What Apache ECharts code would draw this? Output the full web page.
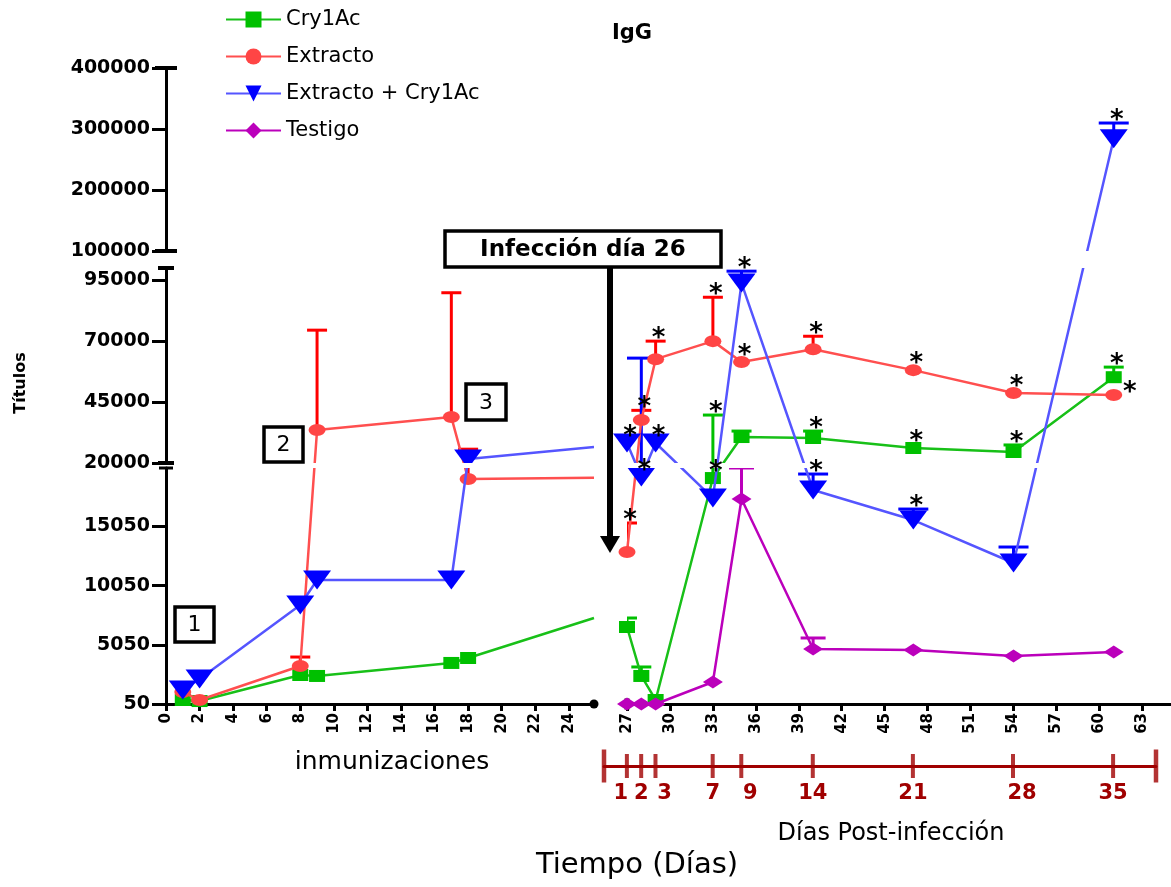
<!DOCTYPE html>
<html><head><meta charset="utf-8">
<script src="https://cdn.jsdelivr.net/npm/echarts@6/dist/echarts.min.js"></script>
<style>html,body{margin:0;padding:0;background:#fff}#c{width:1171px;height:887px}</style>
</head><body><div id="c"></div>
<script>
// ---------------- data ----------------
// immunization phase (left part); 25.5 = where the drawn lines end at the axis break
const daysImmun = [1, 2, 8, 9, 17, 18, 25.5];
const cryImmun = [390, 300, 2500, 2420, 3520, 3940, 7320];
const extImmun = [1060, 390, 3260, 33500, 38850, 19070, 19180];
const extImmunErr = [0, 0, 760, 41000, 51000, 6600, 0];
const extCryImmun = [1230, 2160, 8420, 10530, 10530, 21640, 26560];

// post-infection phase (right part)
const daysInf = [27, 28, 29, 33, 35, 40, 47, 54, 61];
const cryInf = [6560, 2420, 390, 19150, 30650, 30250, 26150, 24500, 55200];
const cryInfErr = [760, 760, 0, 20520, 2450, 2850, 0, 2900, 4140];
const extInf = [12900, 37600, 62600, 70000, 61400, 66700, 58100, 48700, 47900];
const extInfErr = [2450, 4000, 7400, 18000, 0, 5300, 0, 0, 0];
const extCryInf = [28200, 19240, 28200, 17460, 93800, 18140, 15600, 11970, 284000];
const extCryInfErr = [0, 43790, 0, 0, 4900, 1350, 930, 1350, 25800];
const testInf = [50, 50, 50, 1910, 17380, 4700, 4610, 4110, 4450];
const testInfErr = [0, 0, 0, 0, 2620, 930, 0, 0, 0];

// axes
const ySegments = [[50, 20000], [20000, 100000], [100000, 400000]];
const yTicks = [[50, 5050, 10050, 15050], [20000, 45000, 70000, 95000], [100000, 200000, 300000, 400000]];
const xTicksImmun = [0, 2, 4, 6, 8, 10, 12, 14, 16, 18, 20, 22, 24];
const xTicksInf = [27, 30, 33, 36, 39, 42, 45, 48, 51, 54, 57, 60, 63];
const postDays = [1, 2, 3, 7, 9, 14, 21, 28, 35];
const postEnds = [-0.6, 38];

// significance asterisks: [series, day, placement]
const starMarks = [
  ['Extracto', 27, 'cap'], ['Extracto', 28, 'cap'], ['Extracto', 29, 'cap'], ['Extracto', 33, 'cap'],
  ['Extracto', 35, 'pt'], ['Extracto', 40, 'cap'], ['Extracto', 47, 'pt'], ['Extracto', 54, 'pt'],
  ['Extracto', 61, 'side'],
  ['Cry1Ac', 33, 'cap'], ['Cry1Ac', 33, 'pt'], ['Cry1Ac', 40, 'cap'], ['Cry1Ac', 47, 'pt'],
  ['Cry1Ac', 54, 'cap'], ['Cry1Ac', 61, 'cap'],
  ['Extracto + Cry1Ac', 27, 'pt'], ['Extracto + Cry1Ac', 28, 'pt'], ['Extracto + Cry1Ac', 29, 'pt'],
  ['Extracto + Cry1Ac', 35, 'cap'], ['Extracto + Cry1Ac', 40, 'cap'], ['Extracto + Cry1Ac', 47, 'cap'],
  ['Extracto + Cry1Ac', 61, 'cap']
];

// ---------------- layout / style ----------------
const FONT = 'DejaVu Sans';
const PLOT_TOP = 68, PLOT_H = 636;
// visual extent (px from the bottom) of each y-axis segment of the broken axis
const segLayout = [[0, 236], [241, 436], [453, 636]];
function brokenY(v) {
  let bi = ySegments.findIndex(r => v <= r[1]);
  if (bi < 0) bi = ySegments.length - 1;
  const [a, b] = ySegments[bi], [p, q] = segLayout[bi];
  return p + (v - a) / (b - a) * (q - p);
}

const defs = [
  {name: 'Cry1Ac', line: '#18c018', color: '#00c000', err: '#00c000', symbol: 'rect', size: [16, 12], rot: 0, capW: 20,
   immun: cryImmun, immunErr: null, inf: cryInf, infErr: cryInfErr},
  {name: 'Extracto', line: '#ff4f4f', color: '#ff4545', err: '#ff0000', symbol: 'circle', size: [17, 12], rot: 0, capW: 20,
   immun: extImmun, immunErr: extImmunErr, inf: extInf, infErr: extInfErr},
  {name: 'Extracto + Cry1Ac', line: '#5555ff', color: '#0000ff', err: '#0000ff', symbol: 'triangle', size: [28, 19], rot: 180, capW: 30,
   immun: extCryImmun, immunErr: null, inf: extCryInf, infErr: extCryInfErr},
  {name: 'Testigo', line: '#bb00bb', color: '#bb00bb', err: '#bb00bb', symbol: 'diamond', size: [20, 13], rot: 0, capW: 25,
   immun: null, immunErr: null, inf: testInf, infErr: testInfErr}
];

const sides = [
  {left: 166, width: 428, min: 0, max: 25.5, ticks: xTicksImmun, sym: ['none', 'circle'], symSize: [9, 9]},
  {left: 627, width: 544, min: 27, max: 65, ticks: xTicksInf, sym: ['rect', 'none'], symSize: [11, 5]}
];
const bands = [
  {caps: ['none', 'rect'], capSize: [14, 3]},
  {caps: ['rect', 'rect'], capSize: [16, 4]},
  {caps: ['rect', 'rect'], capSize: [22, 4]}
];

const grids = [], xAxes = [], yAxes = [], series = [];
// axis-only grids: one per (side, y segment) to draw the broken axes
sides.forEach((s, si) => bands.forEach((b, bi) => {
  const gi = grids.length;
  const lay = segLayout[bi];
  grids.push({left: s.left, width: s.width, top: PLOT_TOP + PLOT_H - lay[1], height: lay[1] - lay[0]});
  xAxes.push({
    type: 'value', gridIndex: gi, min: s.min, max: s.max, show: bi === 0,
    axisLine: {onZero: false, lineStyle: {color: '#000', width: 3}, symbol: s.sym, symbolSize: s.symSize},
    axisTick: {customValues: s.ticks, length: 7, lineStyle: {color: '#000', width: 3}},
    axisLabel: {customValues: s.ticks, rotate: 90, margin: 9, color: '#000', fontFamily: FONT, fontWeight: 'bold', fontSize: 15},
    splitLine: {show: false}
  });
  yAxes.push({
    type: 'value', gridIndex: gi, min: ySegments[bi][0], max: ySegments[bi][1], show: si === 0, z: 30,
    axisLine: {show: true, onZero: false, lineStyle: {color: '#000', width: 3}, symbol: b.caps, symbolSize: b.capSize},
    axisTick: {customValues: yTicks[bi], length: 14, lineStyle: {color: '#000', width: 3}},
    axisLabel: {customValues: yTicks[bi], margin: 16, color: '#000', fontFamily: FONT, fontWeight: 'bold', fontSize: 19,
                formatter: v => String(v)},
    splitLine: {show: false}
  });
}));

// plotting grids (one per side), y in broken-axis visual units
const plotGrid = [];
sides.forEach((s) => {
  const gi = grids.length;
  plotGrid.push(gi);
  grids.push({left: s.left, width: s.width, top: PLOT_TOP, height: PLOT_H});
  xAxes.push({type: 'value', gridIndex: gi, min: s.min, max: s.max, show: false, splitLine: {show: false}});
  yAxes.push({type: 'value', gridIndex: gi, min: 0, max: PLOT_H, show: false, splitLine: {show: false}});
});

// timeline grid (post-infection days)
const tlGrid = grids.length;
grids.push({left: 604, width: 552, top: 736, height: 30});
const shift = {1: 'l', 3: 'r', 9: 'r', 28: 'r'};
xAxes.push({
  type: 'value', gridIndex: tlGrid, min: postEnds[0], max: postEnds[1],
  axisLine: {onZero: false, lineStyle: {color: '#a00000', width: 3}},
  axisTick: {show: false},
  axisLabel: {customValues: postDays, margin: 17, color: '#a00000', fontFamily: FONT, fontWeight: 'bold', fontSize: 21,
              showMinLabel: true, showMaxLabel: true, hideOverlap: false,
              formatter: v => shift[v] ? '{' + shift[v] + '|' + v + '}' : String(v),
              rich: {l: {padding: [0, 12, 0, 0], color: '#a00000', fontFamily: FONT, fontWeight: 'bold', fontSize: 21},
                     r: {padding: [0, 0, 0, 18], color: '#a00000', fontFamily: FONT, fontWeight: 'bold', fontSize: 21}}},
  splitLine: {show: false}
});
yAxes.push({type: 'value', gridIndex: tlGrid, min: 0, max: 1, show: false, splitLine: {show: false}});

function errRender(color, capW) {
  return function (params, api) {
    const p0 = api.coord([api.value(0), api.value(1)]), p1 = api.coord([api.value(0), api.value(2)]);
    return {type: 'group', children: [
      {type: 'line', shape: {x1: p0[0], y1: p0[1], x2: p1[0], y2: p1[1]}, style: {stroke: color, lineWidth: 3}},
      {type: 'line', shape: {x1: p1[0] - capW / 2, y1: p1[1], x2: p1[0] + capW / 2, y2: p1[1]}, style: {stroke: color, lineWidth: 3}}
    ]};
  };
}

defs.forEach((d, di) => {
  [[daysImmun, d.immun, d.immunErr], [daysInf, d.inf, d.infErr]].forEach(([days, vals, errs], si) => {
    if (!vals) return;
    const g = plotGrid[si];
    const data = days.map((x, i) => {
      const item = {value: [x, brokenY(vals[i])]};
      if (si === 0 && i === days.length - 1) item.symbol = 'none';
      return item;
    });
    series.push({
      type: 'line', name: d.name, xAxisIndex: g, yAxisIndex: g, data: data,
      clip: true, symbol: d.symbol, symbolSize: d.size, symbolRotate: d.rot, showAllSymbol: true,
      lineStyle: {color: d.line, width: 2.5}, itemStyle: {color: d.color}, z: 3 + di * 0.1,
      emphasis: {disabled: true}
    });
    if (errs) {
      const edata = days.map((x, i) => [x, brokenY(vals[i]), brokenY(vals[i] + errs[i]), errs[i]]).filter(r => r[3] > 0);
      series.push({
        type: 'custom', xAxisIndex: g, yAxisIndex: g, clip: true, z: 2,
        data: edata, renderItem: errRender(d.err, d.capW), silent: true
      });
    }
  });
});

// white gaps where the y axis is broken
plotGrid.forEach(g => {
  series.push({
    type: 'line', xAxisIndex: g, yAxisIndex: g, data: [[-1000, -1000]], symbol: 'none', z: 10, silent: true,
    markArea: {silent: true, z: 20, itemStyle: {color: '#ffffff', opacity: 1, borderWidth: 0},
      data: [[{yAxis: segLayout[0][1]}, {yAxis: segLayout[1][0]}], [{yAxis: segLayout[1][1]}, {yAxis: segLayout[2][0]}]]}
  });
});

// asterisks
const starData = starMarks.map(([name, day, place]) => {
  const d = defs.find(x => x.name === name);
  const i = daysInf.indexOf(day);
  const v = d.inf[i], e = d.infErr[i];
  const anchor = place === 'cap' ? v + e : v;
  const code = place === 'cap' ? 0 : place === 'pt' ? 1 : 2;
  return [day, brokenY(anchor), code];
});
series.push({
  type: 'custom', xAxisIndex: plotGrid[1], yAxisIndex: plotGrid[1], clip: false, z: 25, silent: true, data: starData,
  renderItem: function (params, api) {
    const p = api.coord([api.value(0), api.value(1)]);
    const code = api.value(2);
    let x = p[0] + 3, y = p[1] - 2;
    if (code === 1) y = p[1] - 6;
    if (code === 2) { x = p[0] + 16; y = p[1] - 2; }
    return {type: 'text', x: x, y: y, style: {text: '*', font: 'bold 26px "DejaVu Sans"', fill: '#000', align: 'center', verticalAlign: 'middle'}};
  }
});

// timeline ticks
series.push({
  type: 'scatter', xAxisIndex: tlGrid, yAxisIndex: tlGrid, symbol: 'rect', symbolSize: [4, 24], clip: false, silent: true,
  itemStyle: {color: '#a00000'}, data: postDays.map(x => [x, 0])
});
series.push({
  type: 'scatter', xAxisIndex: tlGrid, yAxisIndex: tlGrid, symbol: 'rect', symbolSize: [4.5, 33], clip: false, silent: true,
  itemStyle: {color: '#a00000'}, data: postEnds.map(x => [x, 0])
});

function box(x, y, w, h, label, font) {
  return [
    {type: 'rect', shape: {x: x, y: y, width: w, height: h}, style: {fill: '#fff', stroke: '#000', lineWidth: 3.5}, z: 40},
    {type: 'text', x: x + w / 2, y: y + h / 2 + 1, z: 41,
     style: {text: label, font: font, fill: '#000', align: 'center', verticalAlign: 'middle'}}
  ];
}

const option = {
  animation: false,
  backgroundColor: '#fff',
  textStyle: {fontFamily: FONT},
  title: {text: 'IgG', left: 612, top: 23, padding: 0,
          textStyle: {fontFamily: FONT, fontWeight: 'bold', fontSize: 21, color: '#000'}},
  legend: {
    orient: 'vertical', left: 225, top: 9, padding: 0, itemWidth: 55, itemHeight: 20, itemGap: 16,
    data: defs.map(d => d.name),
    textStyle: {fontFamily: FONT, fontSize: 21, color: '#000', lineHeight: 21}
  },
  grid: grids, xAxis: xAxes, yAxis: yAxes, series: series,
  graphic: [
    ...box(445, 231, 276, 36, 'Infección día 26', 'bold 23px "DejaVu Sans"'),
    {type: 'line', shape: {x1: 610, y1: 268, x2: 610, y2: 538}, style: {stroke: '#000', lineWidth: 6}, z: 40},
    {type: 'polygon', shape: {points: [[600, 536], [620, 536], [610, 553]]}, style: {fill: '#000'}, z: 40},
    ...box(175, 607, 39, 35, '1', '22px "DejaVu Sans"'),
    ...box(264, 427, 39, 35, '2', '22px "DejaVu Sans"'),
    ...box(466, 384, 40, 36, '3', '22px "DejaVu Sans"'),
    {type: 'text', x: 21, y: 383, rotation: Math.PI / 2,
     style: {text: 'Títulos', font: 'bold 16px "DejaVu Sans"', fill: '#000', align: 'center', verticalAlign: 'middle'}},
    {type: 'text', x: 392, y: 762,
     style: {text: 'inmunizaciones', font: '25px "DejaVu Sans"', fill: '#000', align: 'center', verticalAlign: 'middle'}},
    {type: 'text', x: 891, y: 834,
     style: {text: 'Días Post-infección', font: '24px "DejaVu Sans"', fill: '#000', align: 'center', verticalAlign: 'middle'}},
    {type: 'text', x: 637, y: 865,
     style: {text: 'Tiempo (Días)', font: '29px "DejaVu Sans"', fill: '#000', align: 'center', verticalAlign: 'middle'}}
  ]
};

const chart = echarts.init(document.getElementById('c'));
chart.setOption(option);
</script>
</body></html>
